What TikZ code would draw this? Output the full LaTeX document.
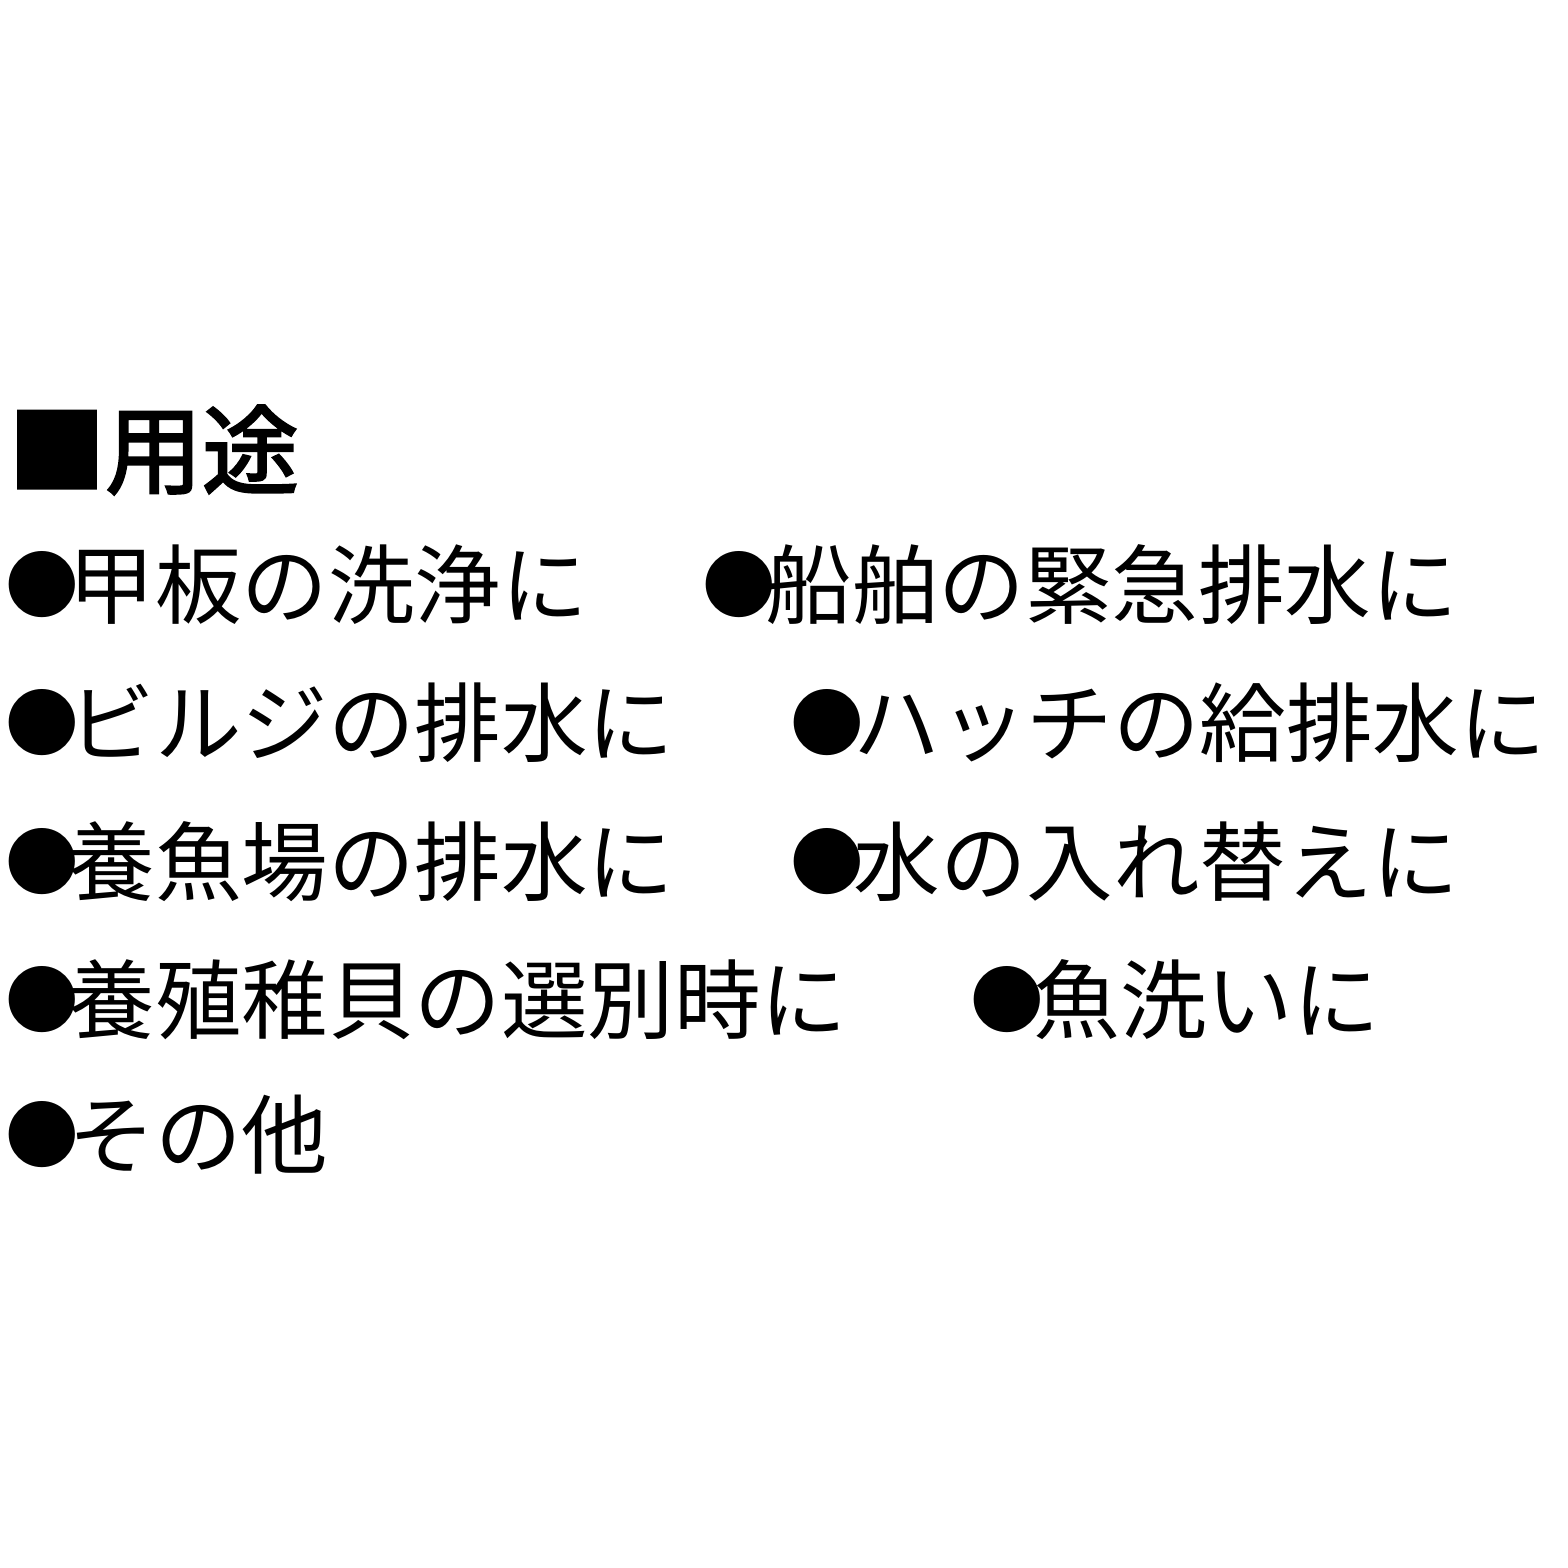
\documentclass[tikz,border=0pt]{standalone}
\usepackage{fontspec}
\newfontfamily\cjk{Noto Sans CJK JP}
\newfontfamily\cjkbold[FakeBold=2.5]{Noto Sans CJK JP}
\newcommand{\dotmark}{\raisebox{0.06em}{\scalebox{0.85}{●}}\hspace{-0.12em}}
\begin{document}
\begin{tikzpicture}[x=0.01cm,y=-0.01cm]
\tikzstyle{every node}=[inner sep=0pt,anchor=west];
\tikzstyle{item}=[font=\cjk\fontsize{24.6}{30}\selectfont];
\useasboundingbox (0,0) rectangle (1568,1568);
\node (t) at (8,450) {\cjkbold\fontsize{27.5}{32}\selectfont ■用途};
\node[item] (a1) at (5,585) {\dotmark 甲板の洗浄に};
\node[item] (a2) at (702,585) {\dotmark 船舶の緊急排水に};
\node[item] (b1) at (5,723) {\dotmark ビルジの排水に};
\node[item] (b2) at (790,723) {\dotmark ハッチの給排水に};
\node[item] (c1) at (5,862) {\dotmark 養魚場の排水に};
\node[item] (c2) at (790,862) {\dotmark 水の入れ替えに};
\node[item] (d1) at (5,1000) {\dotmark 養殖稚貝の選別時に};
\node[item] (d2) at (970,1000) {\dotmark 魚洗いに};
\node[item] (e1) at (5,1135) {\dotmark その他};
\end{tikzpicture}
\end{document}
